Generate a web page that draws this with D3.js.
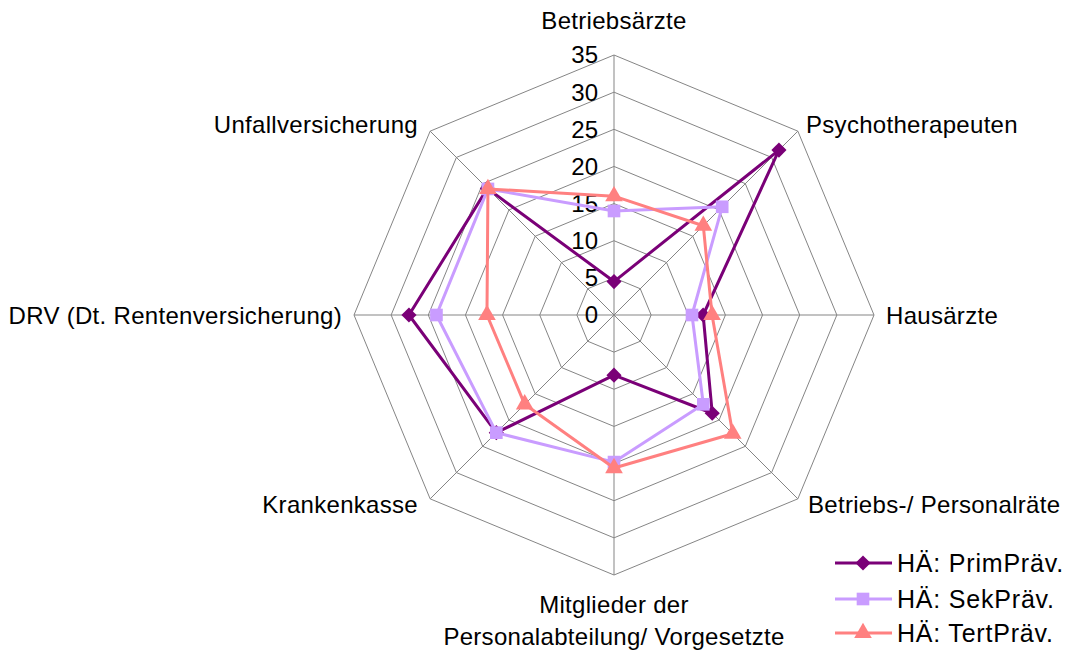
<!DOCTYPE html>
<html>
<head>
<meta charset="utf-8">
<script src="https://d3js.org/d3.v7.min.js"></script>
<style>
  body { margin: 0; background: #fff; font-family: 'Liberation Sans', Arial, sans-serif; }
  .grid { stroke: #858585; stroke-width: 1; fill: none; }
  .lbl { font-size: 24px; fill: #000; letter-spacing: 0.3px; }
  .tick { font-size: 24px; fill: #000; }
</style>
</head>
<body>
<svg id="chart" width="1065" height="650"></svg>
<script>
// categories clockwise from the top
const categories = ["Betriebsärzte", "Psychotherapeuten", "Hausärzte", "Betriebs-/ Personalräte",
  "Mitglieder der Personalabteilung/ Vorgesetzte", "Krankenkasse", "DRV (Dt. Rentenversicherung)", "Unfallversicherung"];
const seriesNames = ["HÄ: PrimPräv.", "HÄ: SekPräv.", "HÄ: TertPräv."];
const primValues = [4.5, 31.4, 12.0, 18.7, 8.1, 22.4, 27.6, 24.1];
const sekValues  = [14.0, 20.6, 10.5, 17.0, 19.8, 22.4, 23.9, 24.0];
const tertValues = [16.0, 17.0, 13.2, 22.6, 20.6, 17.0, 17.1, 24.0];
const tickValues = [0, 5, 10, 15, 20, 25, 30, 35];

const svg = d3.select("#chart");
const cx = 614, cy = 315, R = 260;
const r = d3.scaleLinear().domain([0, 35]).range([0, R]);
const angle = d3.scalePoint().domain(d3.range(categories.length)).range([0, 2 * Math.PI * 7 / 8]);
const pt = (i, v) => [cx + r(v) * Math.sin(angle(i)), cy - r(v) * Math.cos(angle(i))];

// grid octagons
tickValues.slice(1).forEach(t => {
  svg.append("path").attr("class", "grid")
    .attr("d", d3.line()(categories.map((c, i) => pt(i, t))) + "Z");
});
// spokes
categories.forEach((c, i) => {
  const [x, y] = pt(i, 35);
  svg.append("line").attr("class", "grid")
    .attr("x1", cx).attr("y1", cy).attr("x2", x).attr("y2", y);
});

// tick labels
tickValues.forEach(t => {
  svg.append("text").attr("class", "tick")
    .attr("x", 598).attr("y", cy - r(t)).attr("dy", "0.35em")
    .attr("text-anchor", "end").text(t);
});

// category labels
const labelPos = [
  { x: 614, y: 21, a: "middle" },
  { x: 806, y: 125, a: "start" },
  { x: 886, y: 316, a: "start" },
  { x: 808, y: 505, a: "start" },
  { x: 614, y: 605, a: "middle" },
  { x: 418, y: 505, a: "end" },
  { x: 342, y: 316, a: "end" },
  { x: 418, y: 125, a: "end" }
];
categories.forEach((c, i) => {
  const p = labelPos[i];
  const t = svg.append("text").attr("class", "lbl")
    .attr("x", p.x).attr("y", p.y).attr("dy", "0.35em").attr("text-anchor", p.a);
  if (i === 4) {
    t.append("tspan").attr("x", p.x).text("Mitglieder der");
    t.append("tspan").attr("x", p.x).attr("dy", "1.3em").text("Personalabteilung/ Vorgesetzte");
  } else {
    t.text(c);
  }
});

const colors = ["#7a0077", "#c99cff", "#ff8080"];
// diamond = rotated square
const symbols = [d3.symbolSquare, d3.symbolSquare, d3.symbolTriangle];
const symSizes = [115, 160, 135];
const symRot = [" rotate(45)", "", ""];
const allSeries = [primValues, sekValues, tertValues];

allSeries.forEach((vals, s) => {
  svg.append("path")
    .attr("d", d3.line()(vals.map((v, i) => pt(i, v))) + "Z")
    .attr("fill", "none").attr("stroke", colors[s]).attr("stroke-width", 3)
    .attr("stroke-linejoin", "round");
  vals.forEach((v, i) => {
    const [x, y] = pt(i, v);
    svg.append("path")
      .attr("d", d3.symbol().type(symbols[s]).size(symSizes[s])())
      .attr("transform", `translate(${x},${y})${symRot[s]}`)
      .attr("fill", colors[s]);
  });
});

// legend
const legendY = [563, 599, 633];
seriesNames.forEach((n, s) => {
  const y = legendY[s];
  svg.append("line").attr("x1", 835).attr("x2", 892).attr("y1", y).attr("y2", y)
    .attr("stroke", colors[s]).attr("stroke-width", 3);
  svg.append("path")
    .attr("d", d3.symbol().type(symbols[s]).size(symSizes[s])())
    .attr("transform", `translate(863,${y})${symRot[s]}`)
    .attr("fill", colors[s]);
  svg.append("text").attr("class", "lbl").attr("x", 897).attr("y", y).attr("dy", "0.35em")
    .style("font-size", "25px").style("letter-spacing", "0.8px").text(n);
});
</script>
</body>
</html>
